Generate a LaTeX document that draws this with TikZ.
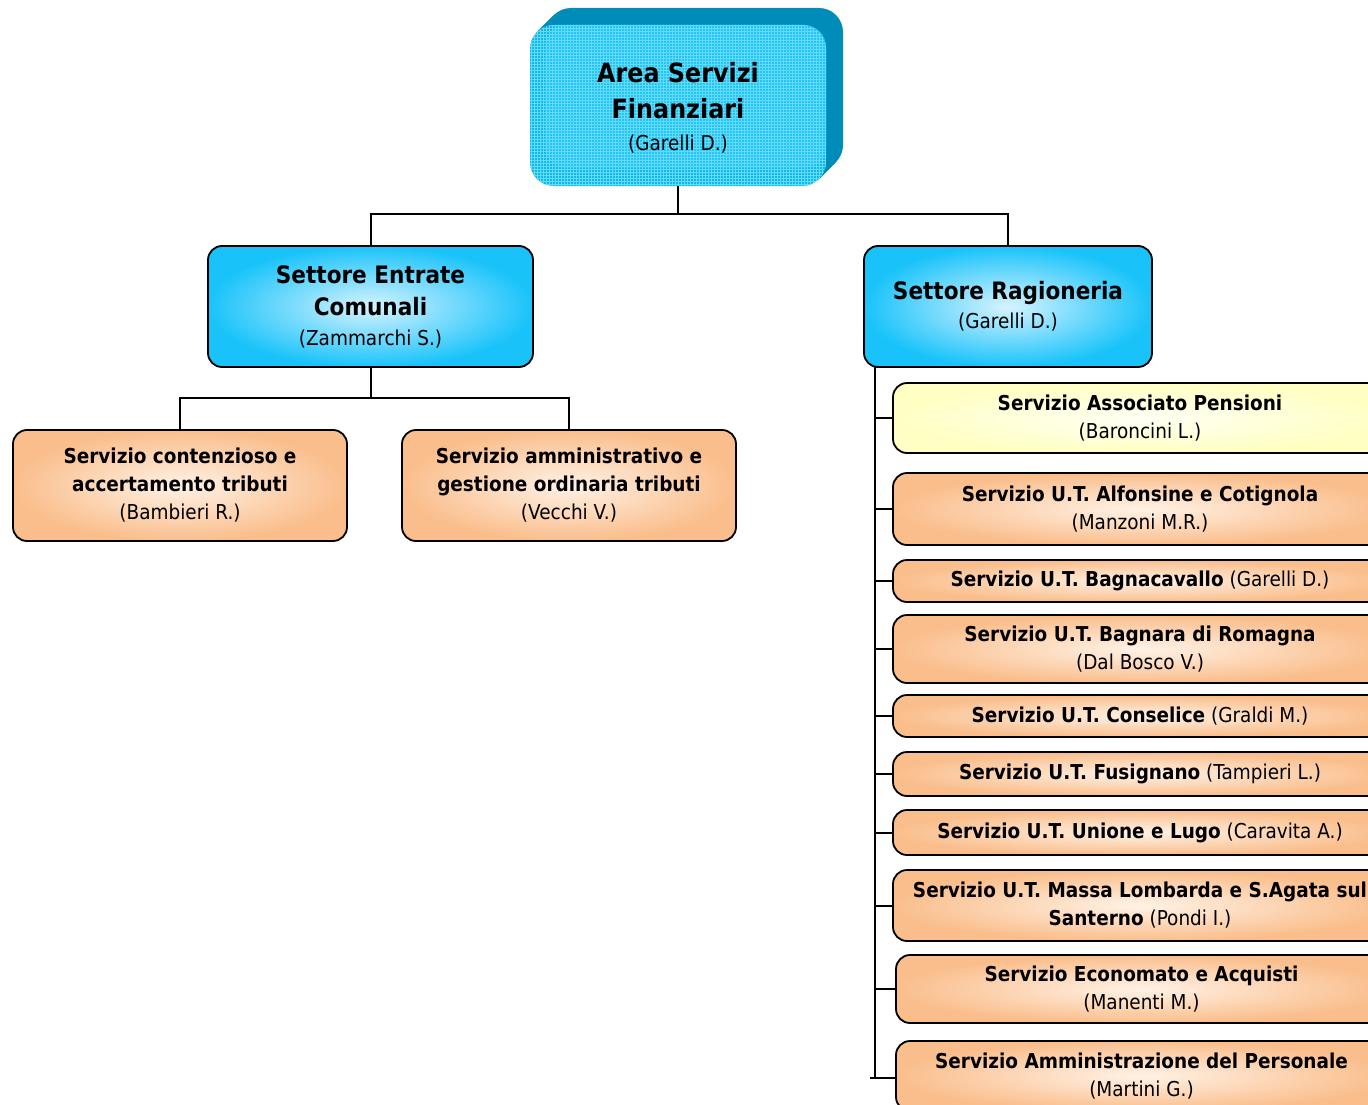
\documentclass[tikz,border=0pt]{standalone}
\usepackage{fontspec}
\setmainfont{DejaVu Sans}[FakeStretch=0.9]
\usetikzlibrary{patterns}
\definecolor{OrOut}{RGB}{250,190,140}
\definecolor{OrIn}{RGB}{255,242,230}
\definecolor{BlOut}{RGB}{25,195,250}
\definecolor{BlIn}{RGB}{215,243,255}
\definecolor{YeOut}{RGB}{255,255,195}
\definecolor{YeIn}{RGB}{255,255,245}
\definecolor{TealDk}{RGB}{0,140,185}
\definecolor{CyFace}{RGB}{15,185,232}
\definecolor{CyInner}{RGB}{35,198,242}
\definecolor{CyGrid}{RGB}{100,218,250}
\newcommand{\bigtitle}{\fontsize{26.5}{36}\selectfont\bfseries}
\newcommand{\midtitle}{\fontsize{24}{32}\selectfont\bfseries}
\newcommand{\nameline}{\fontsize{20.5}{28}\selectfont\mdseries}
\begin{document}
\begin{tikzpicture}[x=1pt,y=-1pt,
  box/.style={draw, line width=1.8pt, rounded corners=14pt, align=center, inner sep=0pt,
    font=\fontsize{20.5}{28}\selectfont},
  peachbox/.style={box, inner color=OrIn, outer color=OrOut},
  bluebox/.style={box, inner color=BlIn, outer color=BlOut, font=\fontsize{24}{32}\selectfont},
  yellowbox/.style={box, inner color=YeIn, outer color=YeOut},
  rbox/.style={peachbox, minimum width=494pt},
  conn/.style={line width=2pt}
]
\useasboundingbox (0,0) rectangle (1368,1105);
\clip (0,0) rectangle (1368,1105);
% top 3D box
\foreach \i in {17,16,...,1}
  \fill[TealDk, rounded corners=24pt] (530+\i,25-\i) rectangle (826+\i,186-\i);
\fill[CyFace, rounded corners=24pt] (530,25) rectangle (826,186);
\fill[CyInner, rounded corners=22pt] (545,25) rectangle (826,168);
\fill[pattern=grid, pattern color=CyGrid, rounded corners=24pt] (530,25) rectangle (826,186);
\node (top) [inner sep=0pt, minimum width=296pt, minimum height=165pt, align=center,
  font=\fontsize{26.5}{36}\selectfont] at (678,107.5)
  {\bigtitle Area Servizi\\ \bigtitle Finanziari\\[-4pt] \nameline (Garelli D.)};

% second level
\node (entr) [bluebox, minimum width=325pt, minimum height=121pt] at (370.5,306.5)
  {\midtitle Settore Entrate\\ \midtitle Comunali\\[-2pt] \nameline (Zammarchi S.)};
\node (rag) [bluebox, minimum width=288pt, minimum height=121pt] at (1008,306.5)
  {\midtitle Settore Ragioneria\\[-3pt] \nameline (Garelli D.)};

% third level left
\node (cont) [peachbox, minimum width=334pt, minimum height=111pt] at (180,485.5)
  {\textbf{Servizio contenzioso e}\\\textbf{accertamento tributi}\\(Bambieri R.)};
\node (amm) [peachbox, minimum width=334pt, minimum height=111pt] at (569,485.5)
  {\textbf{Servizio amministrativo e}\\\textbf{gestione ordinaria tributi}\\(Vecchi V.)};

% right column
\node (r1) [yellowbox, minimum width=494pt, minimum height=70pt] at (1140,418)
  {\textbf{Servizio Associato Pensioni}\\(Baroncini L.)};
\node (r2) [rbox, minimum height=72pt] at (1140,509)
  {\textbf{Servizio U.T. Alfonsine e Cotignola}\\(Manzoni M.R.)};
\node (r3) [rbox, minimum height=42pt] at (1140,581)
  {\textbf{Servizio U.T. Bagnacavallo} (Garelli D.)};
\node (r4) [rbox, minimum height=68pt] at (1140,649)
  {\textbf{Servizio U.T. Bagnara di Romagna}\\(Dal Bosco V.)};
\node (r5) [rbox, minimum height=42pt] at (1140,716)
  {\textbf{Servizio U.T. Conselice} (Graldi M.)};
\node (r6) [rbox, minimum height=44pt] at (1140,774)
  {\textbf{Servizio U.T. Fusignano} (Tampieri L.)};
\node (r7) [rbox, minimum height=45pt] at (1140,832.5)
  {\textbf{Servizio U.T. Unione e Lugo} (Caravita A.)};
\node (r8) [rbox, minimum height=71pt] at (1140,905.5)
  {\textbf{Servizio U.T. Massa Lombarda e S.Agata sul}\\\textbf{Santerno} (Pondi I.)};
\node (r9) [rbox, minimum width=491pt, minimum height=68pt] at (1141.5,989)
  {\textbf{Servizio Economato e Acquisti}\\(Manenti M.)};
\node (r10) [rbox, minimum width=491pt, minimum height=70pt] at (1141.5,1076)
  {\textbf{Servizio Amministrazione del Personale}\\(Martini G.)};

% connectors
\coordinate (bus1) at (678,214);
\draw[conn] ([yshift=4pt]top.south) -- (bus1);
\draw[conn] (entr.north) |- (bus1) -| (rag.north);
\coordinate (bus2) at (370.5,398);
\draw[conn] (entr.south) -- (bus2);
\draw[conn] (cont.north) |- (bus2) -| (amm.north);
\coordinate (trunk) at (875,367);
\coordinate (trunkend) at (875,1078);
\draw[conn] (trunk) -- (trunkend);
\foreach \n in {r1,r2,r3,r4,r5,r6,r7,r8,r9}
  \draw[conn] (trunk |- \n.west) -- (\n.west);
\draw[conn] ([xshift=-5pt]trunkend) -- (r10.west |- trunkend);
\end{tikzpicture}
\end{document}
